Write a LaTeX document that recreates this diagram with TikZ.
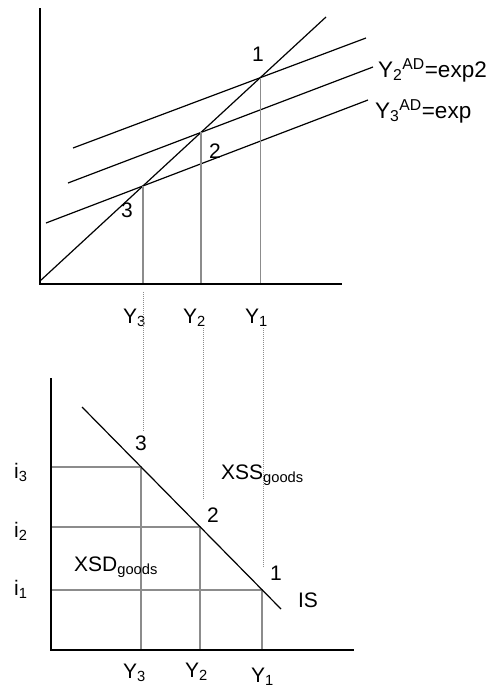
\documentclass[tikz,border=0pt]{standalone}
\usepackage{fontspec}
\setmainfont{Liberation Sans}
\usepackage{xcolor}
\definecolor{guideGray}{RGB}{140,140,140}
\usepackage{tikz}
\usetikzlibrary{intersections}
\tikzstyle{axis}=[line width=1.8pt, black]
\tikzstyle{curve}=[line width=1.2pt, black]
\tikzstyle{guide}=[line width=1.2pt, guideGray]
\tikzstyle{link}=[line width=0.8pt, guideGray, dash pattern=on 1pt off 1pt]
\tikzstyle{lbl}=[font=\fontsize{21}{24}\selectfont, inner sep=0pt]
\tikzstyle{adlbl}=[lbl, font=\fontsize{22.5}{26}\selectfont, anchor=base west]

\begin{document}
\begin{tikzpicture}[x=1pt,y=-1pt]
        \useasboundingbox (0,0) rectangle (494,688);
        % upper panel: 45 degree line and expenditure lines
        \coordinate (topo) at (40,284);
        \draw[curve,name path=diag] (40,281) -- (326,17);
        \foreach \xa/\ya/\xb/\yb/\n in {73/148/366/38/1,68/183/373/67/2,46/223/368/100/3}{
          \draw[curve,name path global=ad\n] (\xa,\ya) -- (\xb,\yb);
        }
        \foreach \n in {1,2,3}{
          \path[name intersections={of=diag and ad\n, by=e\n}];
          \draw[guide] (e\n) -- (e\n |- topo);
        }
        \draw[axis] (40,8) -- (topo) -- (342,284);
        \node[lbl] (pt1) at (258,54) {1};
        \node[lbl] (pt2) at (215,151) {2};
        \node[lbl] (pt3) at (127,210) {3};
        \node[adlbl] (adtwo) at (378,77) {Y\textsubscript{2}\textsuperscript{AD}=exp2};
        \node[adlbl] (adthree) at (375,118) {Y\textsubscript{3}\textsuperscript{AD}=exp};
        \foreach \n/\x in {3/123,2/183,1/245}{
          \node[lbl,anchor=base west] (ytop\n) at (\x,323) {Y\textsubscript{\n}};
        }
        % dotted links down to the IS panel
        \foreach \x/\a/\b in {143/292/432,203/328/500,263/328/567}{
          \draw[link] (\x,\a) -- (\x,\b);
        }
        % lower panel: IS curve
        \coordinate (boto) at (51,650);
        \foreach \n/\x/\y in {3/141/467,2/200/527,1/262/590}{
          \coordinate (q\n) at (\x,\y);
          \draw[guide] (q\n -| boto) -- (q\n) -- (q\n |- boto);
        }
        \draw[curve] (82,407) -- (281,609);
        \draw[axis] (51,378) -- (boto) -- (354,650);
        \node[lbl] (ps3) at (141,443) {3};
        \node[lbl] (ps2) at (213,515) {2};
        \node[lbl] (ps1) at (276,573) {1};
        \node[lbl] (is) at (308,600) {IS};
        \node[lbl,anchor=base west] (xss) at (221,479) {XSS\textsubscript{goods}};
        \node[lbl,anchor=base west] (xsd) at (74,571) {XSD\textsubscript{goods}};
        \foreach \n/\y in {3/478,2/537,1/595}{
          \node[lbl,anchor=base west] (i\n) at (14,\y) {i\textsubscript{\n}};
        }
        \foreach \n/\x/\y in {3/123/678,2/185/677,1/251/682}{
          \node[lbl,anchor=base west] (ybot\n) at (\x,\y) {Y\textsubscript{\n}};
        }
      \end{tikzpicture}
\end{document}
